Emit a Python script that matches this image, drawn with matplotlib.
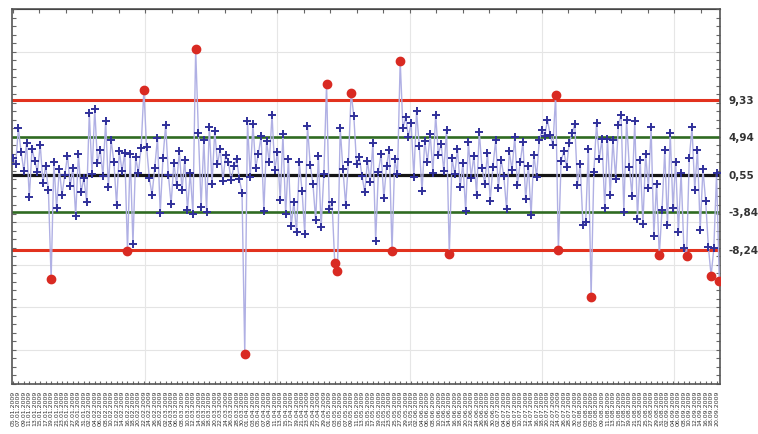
import matplotlib.pyplot as plt
from matplotlib.ticker import MultipleLocator, NullFormatter
import pandas as pd

plt.rcParams['font.family'] = ['DejaVu Sans']

# measured values of the individuals chart
values = [
    2.5, 1.8, 6.0, 3.2, 1.0, 4.3, -2.1, 3.6, 2.2, 0.9,
    4.1, -0.4, 1.6, -1.2, -11.7, 2.0, -3.4, 1.2, -1.8, 0.5,
    2.8, -0.8, 1.4, -4.3, 3.0, -1.5, 0.2, -2.6, 7.8, 0.6,
    8.3, 1.9, 3.5, 0.4, 6.9, -0.9, 4.6, 2.1, -3.0, 3.3,
    1.0, 3.1, -8.4, 3.0, -7.6, 2.6, 0.8, 3.7, 10.5, 3.8,
    0.2, -1.8, 1.4, 4.9, -3.9, 2.5, 6.4, 0.5, -2.9, 1.9,
    -0.6, 3.3, -1.2, 2.3, -3.6, 0.8, -4.0, 15.3, 5.5, -3.2,
    4.6, -3.8, 6.2, -0.5, 5.7, 1.8, 3.6, -0.2, 2.9, 2.1,
    -0.1, 1.6, 2.4, 0.1, -1.6, -20.5, 6.8, 0.3, 6.5, 1.4,
    3.0, 5.1, -3.7, 4.5, 2.0, 7.6, 1.1, 3.2, -2.4, 5.3,
    -4.1, 2.4, -5.5, -2.7, -6.2, 2.0, -1.3, -6.4, 6.3, 1.7,
    -0.5, -4.8, 2.8, -5.6, 0.6, 11.2, -3.5, -2.7, -9.8, -10.8,
    6.0, 1.2, -3.0, 2.0, 10.2, 7.4, 1.8, 2.6, 0.4, -1.5,
    2.2, -0.3, 4.3, -7.2, 0.9, 3.0, -2.2, 1.6, 3.5, -8.4,
    2.4, 0.6, 13.9, 6.0, 7.3, 5.0, 6.6, 0.3, 8.0, 3.9,
    -1.4, 4.5, 2.1, 5.3, 0.8, 7.6, 2.9, 4.2, 1.0, 5.8,
    -8.8, 2.5, 0.6, 3.6, -0.9, 1.9, -3.7, 4.4, 0.2, 2.8,
    -1.8, 5.6, 1.3, -0.5, 3.1, -2.5, 1.5, 4.6, -1.0, 2.3,
    0.4, -3.5, 3.3, 1.1, 5.0, -0.6, 2.0, 4.4, -2.3, 1.6,
    -4.2, 2.9, 0.3, 4.6, 5.8, 5.1, 7.0, 5.2, 4.0, 9.9,
    -8.3, 2.2, 3.3, 1.5, 4.3, 5.4, 6.5, -0.6, 1.8, -5.3,
    -5.0, 3.6, -13.8, 0.9, 6.6, 2.4, 4.8, -3.4, 4.8, -1.8,
    4.6, 0.1, 6.4, 7.6, -3.8, 7.0, 1.5, -1.9, 6.8, -4.6,
    2.3, -5.2, 3.0, -1.0, 6.1, -6.6, -0.5, -8.9, -3.6, 3.4,
    -5.4, 5.5, -3.3, 2.0, -6.2, 0.8, -8.0, -9.0, 2.5, 6.1,
    -1.2, 3.5, -5.9, 1.2, -2.5, -7.9, -11.3, -8.1, 0.7, -11.9,
]

center = 0.55
ucl, lcl = 9.33, -8.24
uwl, lwl = 4.94, -3.84
limit_labels = ['9,33', '4,94', '0,55', '-3,84', '-8,24']
limit_values = [ucl, uwl, center, lwl, lcl]

x = list(range(len(values)))
x_labels = list(pd.date_range('2009-01-05', periods=len(values), freq='D').strftime('%d.%m.%Y'))

fig = plt.figure(figsize=(7.58, 4.35), dpi=100)
ax = fig.add_axes([0.016, 0.115, 0.934, 0.862])

# faint grid
for gy in [-20, -15, -10, -5, 15]:
    ax.axhline(gy, color='#e4e4e4', lw=0.8, zorder=0)
for gx in [48.5, 97, 145.5, 194, 242.5]:
    ax.axvline(gx, color='#e6e6e6', lw=0.8, zorder=0)

# control / warning lines
ax.axhline(ucl, color='#e2321e', lw=2.2, zorder=2)
ax.axhline(lcl, color='#e2321e', lw=2.2, zorder=2)
ax.axhline(uwl, color='#2f6b22', lw=1.9, zorder=2)
ax.axhline(lwl, color='#2f6b22', lw=1.9, zorder=2)
ax.axhline(center, color='#151515', lw=2.3, zorder=2)

ax.plot(x, values, color='#b0b0e4', lw=1.0, zorder=3)

inx = [i for i, v in zip(x, values) if lcl <= v <= ucl]
iny = [v for v in values if lcl <= v <= ucl]
outx = [i for i, v in zip(x, values) if v < lcl or v > ucl]
outy = [v for v in values if v < lcl or v > ucl]
ax.plot(inx, iny, ls='none', marker='+', ms=5.5, mew=1.4, color='#30309a', zorder=4)
ax.plot(outx, outy, ls='none', marker='o', ms=6, color='#d92a22', zorder=5)

ax.set_xlim(-0.3, len(values) - 0.7)
ax.set_ylim(-24, 20)

for lab, val in zip(limit_labels, limit_values):
    ax.text(1.012, val, lab, transform=ax.get_yaxis_transform(), fontsize=7.5,
            fontweight='bold', color='#333333', va='center', ha='left')

ax.yaxis.set_major_locator(MultipleLocator(1))
ax.yaxis.set_major_formatter(NullFormatter())
ax.tick_params(axis='y', which='both', direction='in', length=3, left=True, right=True,
               color='#666666')

ax.set_xticks(x[::2])
ax.set_xticklabels(x_labels[::2], rotation=90, fontsize=4.5, color='#333333')
ax.tick_params(axis='x', direction='in', length=2, pad=4, color='#666666')

top = ax.secondary_xaxis('top')
top.xaxis.set_major_locator(MultipleLocator(9.7))
top.xaxis.set_major_formatter(NullFormatter())
top.tick_params(direction='in', length=3, color='#666666')

for sp in ax.spines.values():
    sp.set_color('#555555')
    sp.set_linewidth(1.2)

fig.savefig('out.png', dpi=100)
